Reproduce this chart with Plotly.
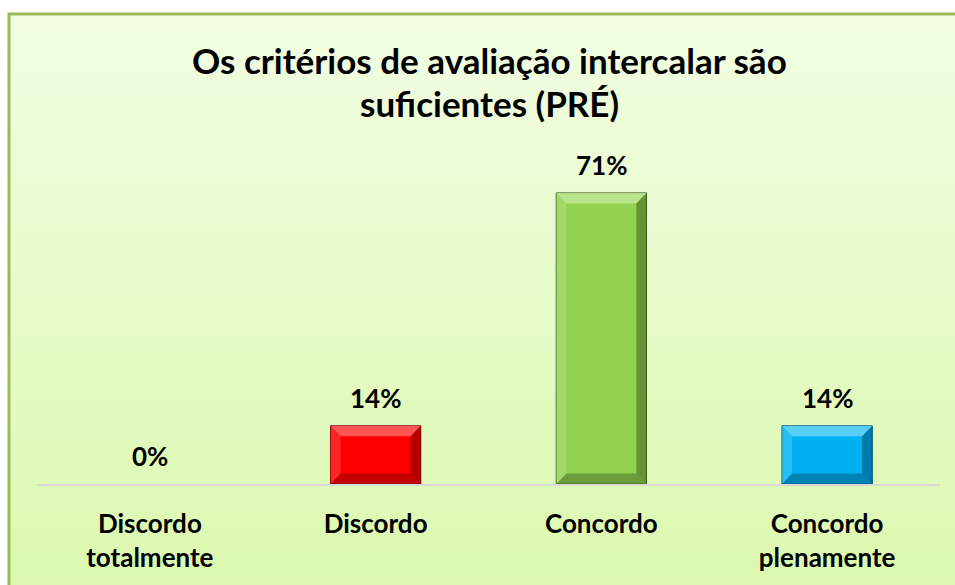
import plotly.graph_objects as go

categories = ["Discordo<br>totalmente", "Discordo", "Concordo", "Concordo<br>plenamente"]
values = [0.0, 14.29, 71.43, 14.29]
value_labels = ["0%", "14%", "71%", "14%"]
bar_colors = ["#FF0000", "#FF0000", "#92D050", "#00B0F0"]
dark_colors = ["#7A0000", "#7A0000", "#3E5E1E", "#004E6E"]
light_colors = ["#FF6A6A", "#FF6A6A", "#C2E89A", "#6FD8FF"]
title_lines = ["Os critérios de avaliação intercalar são", "suficientes (PRÉ)"]

FONT = "Lato"
OFF = 0  # body margin removed via post_script
W, H = 955 - OFF, 585 - OFF
PL, PR, PT, PB = 37, 940, 158, 484
L, T = PL - OFF, PT - OFF
R = W - (PR - OFF)
B = H - (PB - OFF)
PW, PH = W - L - R, H - T - B
YMAX = 80


def px_x(sx):
    return (sx - OFF - L) / PW


def px_y(sy):
    return (H - B - (sy - OFF)) / PH


fig = go.Figure()
xs = list(range(len(categories)))
fig.add_trace(go.Bar(
    x=xs, y=values, width=0.4,
    marker=dict(color=bar_colors,
                line=dict(color=dark_colors, width=[0 if v <= 0 else 1 for v in values])),
    hoverinfo="skip", showlegend=False,
))

shapes = []
n = 40
top_px, bot_px = 13, 600
c0 = (0xF2, 0xFD, 0xE2)
c1 = (0xDB, 0xF9, 0xAE)
for i in range(n):
    t = i / (n - 1)
    col = "rgb(%d,%d,%d)" % tuple(round(a + (b - a) * t) for a, b in zip(c0, c1))
    y0 = top_px + (bot_px - top_px) * i / n
    y1 = top_px + (bot_px - top_px) * (i + 1) / n + 1
    shapes.append(dict(type="rect", xref="paper", yref="paper", layer="below",
                       x0=px_x(9), x1=px_x(980),
                       y0=px_y(y0), y1=px_y(y1),
                       fillcolor=col, line=dict(width=0)))
shapes.append(dict(type="rect", xref="paper", yref="paper", layer="below",
                   x0=px_x(9), x1=px_x(990), y0=px_y(14), y1=px_y(620),
                   fillcolor="rgba(0,0,0,0)", line=dict(color="#9BBB59", width=3)))

bw = 0.2
bx = 0.045
by = 2.6
for i, v in enumerate(values):
    if v <= 0:
        continue
    xl, xr = i - bw, i + bw
    byy = min(by, v / 3)
    shapes.append(dict(type="path", xref="x", yref="y", line=dict(width=0), fillcolor=light_colors[i], opacity=0.8,
                       path=f"M{xl},{v} L{xr},{v} L{xr-bx},{v-byy} L{xl+bx},{v-byy} Z"))
    shapes.append(dict(type="path", xref="x", yref="y", line=dict(width=0), fillcolor=dark_colors[i], opacity=0.55,
                       path=f"M{xr},{v} L{xr},0 L{xr-bx},{byy} L{xr-bx},{v-byy} Z"))
    shapes.append(dict(type="path", xref="x", yref="y", line=dict(width=0), fillcolor=dark_colors[i], opacity=0.45,
                       path=f"M{xl},0 L{xr},0 L{xr-bx},{byy} L{xl+bx},{byy} Z"))
    shapes.append(dict(type="path", xref="x", yref="y", line=dict(width=0), fillcolor=light_colors[i], opacity=0.35,
                       path=f"M{xl},0 L{xl},{v} L{xl+bx},{v-byy} L{xl+bx},{byy} Z"))

annotations = []
for i, (v, lab) in enumerate(zip(values, value_labels)):
    annotations.append(dict(x=i, y=v, xref="x", yref="y", text=lab, showarrow=False,
                            yshift=28, font=dict(family=FONT, size=26, color="#000000", weight=700)))

title_y_px = [60, 103]
for line, ypx in zip(title_lines, title_y_px):
    annotations.append(dict(x=px_x(489), y=px_y(ypx), xref="paper", yref="paper",
                            text=line, showarrow=False, xanchor="center", yanchor="middle",
                            font=dict(family=FONT, size=35, color="#000000", weight=700)))

fig.update_layout(
    width=W, height=H,
    margin=dict(l=L, r=R, t=T, b=B, pad=0),
    paper_bgcolor="#FFFFFF", plot_bgcolor="rgba(0,0,0,0)",
    shapes=shapes, annotations=annotations,
    bargap=0.6, showlegend=False,
    xaxis=dict(tickmode="array", tickvals=xs, ticktext=categories, range=[-0.5, 3.5],
               showgrid=False, zeroline=False, showline=True, linecolor="#D9D9D9", linewidth=2,
               ticks="outside", ticklen=16, tickcolor="rgba(0,0,0,0)",
               tickfont=dict(family=FONT, size=26, color="#000000", weight=700)),
    yaxis=dict(range=[0, YMAX], visible=False, showgrid=False, zeroline=False),
)

fig.write_html("out.html", config={"displayModeBar": False},
               post_script="document.body.style.margin='0';document.body.style.overflow='hidden';")
